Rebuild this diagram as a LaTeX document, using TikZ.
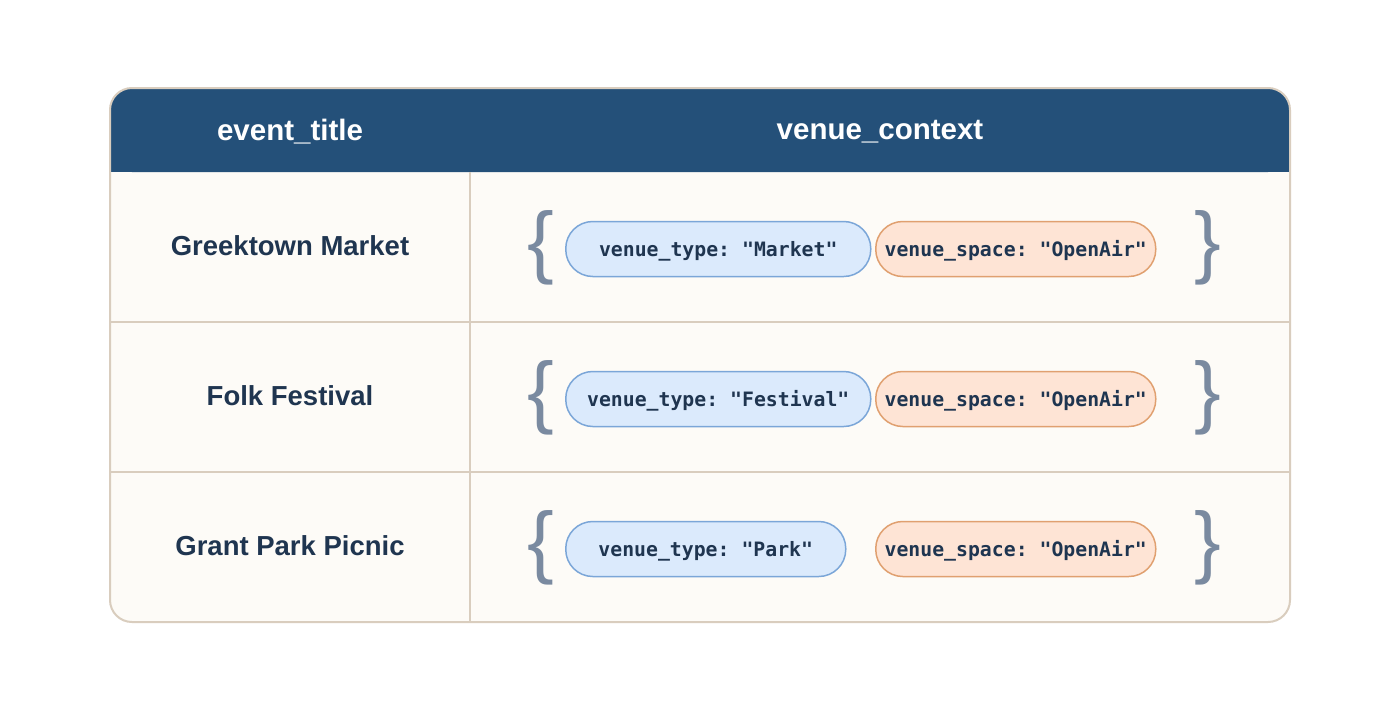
\documentclass[tikz,border=0pt]{standalone}
\usepackage{fontspec}
\setmainfont{Liberation Sans}
\setmonofont{DejaVu Sans Mono}
\definecolor{hdr}{HTML}{245079}
\definecolor{bord}{HTML}{D9CDBE}
\definecolor{cellbg}{HTML}{FDFBF7}
\definecolor{txt}{HTML}{1F3550}
\definecolor{bluef}{HTML}{DBEAFC}
\definecolor{blued}{HTML}{7BA6D8}
\definecolor{oranf}{HTML}{FEE4D5}
\definecolor{orand}{HTML}{E0A070}
\definecolor{brc}{HTML}{7A8AA0}
\begin{document}
\begin{tikzpicture}[x=1pt,y=-1pt,
  hdrtxt/.style={text=white,font=\fontsize{29.5}{32}\selectfont\bfseries},
  rowtxt/.style={text=txt,font=\fontsize{27.5}{30}\selectfont\bfseries},
  pill/.style={rounded corners=27pt,line width=1.5pt,minimum height=55pt,inner sep=0pt,text height=21.4pt,text depth=6.6pt,text=txt,font=\ttfamily\bfseries\fontsize{19.8}{22}\selectfont},
  bpill/.style={pill,draw=blued,fill=bluef},
  opill/.style={pill,draw=orand,fill=oranf},
  brace/.style={text=brc,font=\fontsize{80}{80}\selectfont,inner sep=0pt}]
\useasboundingbox (0,0) rectangle (1400,720);
\fill[white] (0,0) rectangle (1400,720);
\fill[cellbg,rounded corners=22pt] (110,88) rectangle (1290,622);
\fill[hdr,rounded corners=22pt] (110,88) rectangle (1290,172);
\fill[hdr] (110,140) rectangle (1290,172);
\draw[bord,line width=2pt,rounded corners=22pt] (110,88) rectangle (1290,622);
\draw[bord,line width=2pt] (470,172) -- (470,622);
\draw[bord,line width=2pt] (110,322) -- (1290,322);
\draw[bord,line width=2pt] (110,472) -- (1290,472);
\node[hdrtxt] (h1) at (290,132) {event\_title};
\node[hdrtxt] (h2) at (880,132) {venue\_context};
\foreach \y/\t/\v/\w [count=\i] in {249/Greektown Market/Market/305,399/Folk Festival/Festival/305,549/Grant Park Picnic/Park/280}{
  \node[rowtxt] (r\i) at (290,\y-3) {\t};
  \node[brace] (lb\i) at (541,\y-1) {\{};
  \node[brace] (rb\i) at (1208,\y-1) {\}};
  \node[bpill,minimum width=\w pt,anchor=west] (b\i) at (565,\y) {venue\_type: "\v"};
  \node[opill,minimum width=280pt,anchor=west] (o\i) at (875,\y) {venue\_space: "OpenAir"};
}
\end{tikzpicture}
\end{document}
